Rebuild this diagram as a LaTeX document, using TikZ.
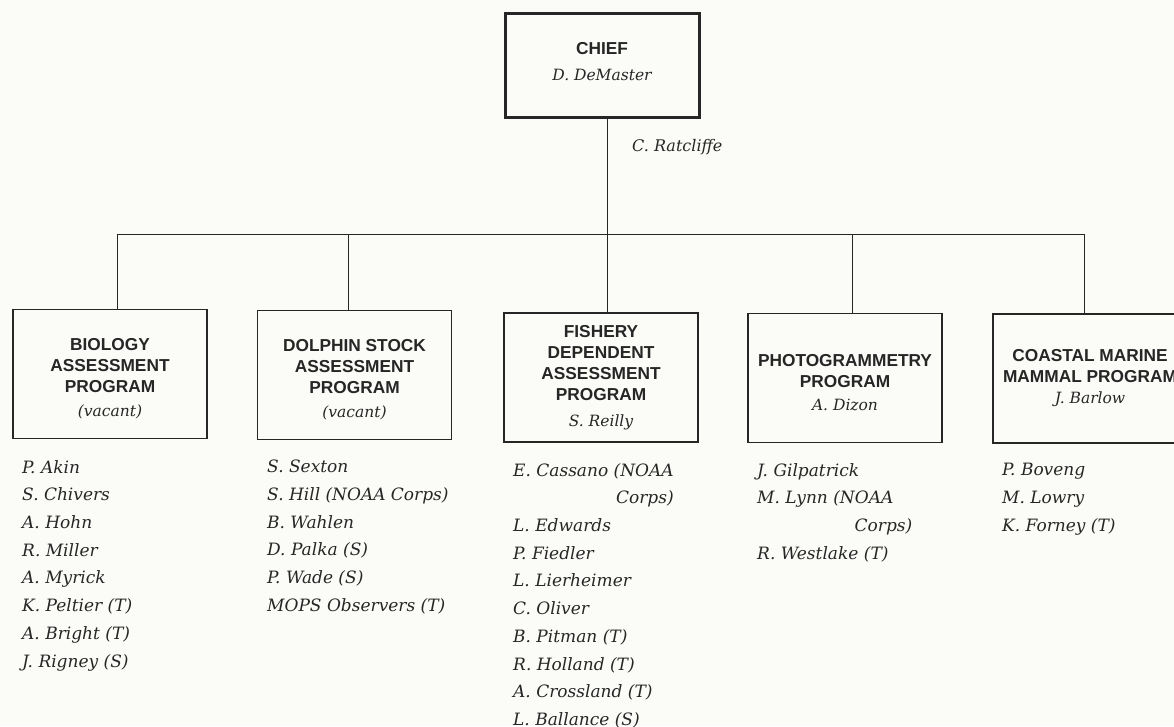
\documentclass[tikz,border=0pt]{standalone}
\usepackage{fontspec}
\newfontfamily\hdfont{Liberation Sans}
\newfontfamily\nmfont{DejaVu Serif}
\newcommand\whofont{\nmfont\itshape\mdseries\fontsize{15.5}{19}\selectfont}
\definecolor{ink}{RGB}{38,38,38}
\definecolor{paper}{RGB}{251,251,248}
\begin{document}
\begin{tikzpicture}[x=1pt,y=-1pt,
  conn/.style={draw=ink, line width=1pt},
  unitbox/.style={draw=ink, line width=1.6pt, rectangle, minimum width=194pt, minimum height=129pt, inner sep=0pt},
  chiefbox/.style={unitbox, line width=3pt, minimum height=104pt},
  unittext/.style={inner sep=0pt, align=center, text=ink, font=\hdfont\bfseries\fontsize{17.3}{21}\selectfont},
  namelist/.style={anchor=north west, inner sep=0pt, align=left, text=ink,
    font=\nmfont\itshape\fontsize{17}{27.7}\selectfont}]
\fill[paper] (0,0) rectangle (1174,726);
\useasboundingbox (0,0) rectangle (1174,726);

\node[chiefbox] (chief) at (602,65) {};
\node[unittext] (chieft) at ([yshift=3pt]chief.center) {CHIEF\\[5pt]{\whofont D. DeMaster}};
\node[anchor=west, inner sep=0pt, text=ink, font=\nmfont\itshape\fontsize{16}{19}\selectfont] (rat) at (632,147) {C. Ratcliffe};

\node[unitbox] (box1) at (110,374) {};
\node[unitbox] (box2) at (354.5,375) {};
\node[unitbox] (box3) at (601,377.5) {};
\node[unitbox] (box4) at (845,378) {};
\node[unitbox] (box5) at (1090,378.5) {};

\node[unittext] (t1) at ([yshift=-5pt]box1.center) {BIOLOGY\\ASSESSMENT\\PROGRAM\\[3pt]{\whofont (vacant)}};
\node[unittext] (t2) at ([yshift=-5pt]box2.center) {DOLPHIN STOCK\\ASSESSMENT\\PROGRAM\\[3pt]{\whofont (vacant)}};
\node[unittext] (t3) at (box3.center) {FISHERY\\DEPENDENT\\ASSESSMENT\\PROGRAM\\[5pt]{\whofont S. Reilly}};
\node[unittext] (t4) at ([yshift=-5pt]box4.center) {PHOTOGRAMMETRY\\PROGRAM\\[2pt]{\whofont A. Dizon}};
\node[unittext] (t5) at (box5.center) {COASTAL MARINE\\MAMMAL PROGRAM\\[0pt]{\whofont J. Barlow}};

\coordinate (j1) at (117,234);
\coordinate (j2) at (348,234);
\coordinate (j3) at (607,234);
\coordinate (j4) at (852,234);
\coordinate (j5) at (1084,234);
\draw[conn] (j1) -- (j5);
\draw[conn] (chief.south -| j3) -- (j3);
\foreach \i in {1,...,5} {\draw[conn] (j\i) -- (box\i.north -| j\i);}

\node[namelist] (list1) at (22,460) {P. Akin\\S. Chivers\\A. Hohn\\R. Miller\\A. Myrick\\K. Peltier (T)\\A. Bright (T)\\J. Rigney (S)};
\node[namelist] (list2) at (267,460) {S. Sexton\\S. Hill (NOAA Corps)\\B. Wahlen\\D. Palka (S)\\P. Wade (S)\\MOPS Observers (T)};
\node[namelist] (list3) at (513,463) {E. Cassano (NOAA\\\hphantom{E. Cassano (NOAA}\llap{Corps)}\\L. Edwards\\P. Fiedler\\L. Lierheimer\\C. Oliver\\B. Pitman (T)\\R. Holland (T)\\A. Crossland (T)\\L. Ballance (S)};
\node[namelist] (list4) at (757,463) {J. Gilpatrick\\M. Lynn (NOAA\\\hphantom{M. Lynn (NOAA}\hspace{19pt}\llap{Corps)}\\R. Westlake (T)};
\node[namelist] (list5) at (1002,463) {P. Boveng\\M. Lowry\\K. Forney (T)};
\end{tikzpicture}
\end{document}
